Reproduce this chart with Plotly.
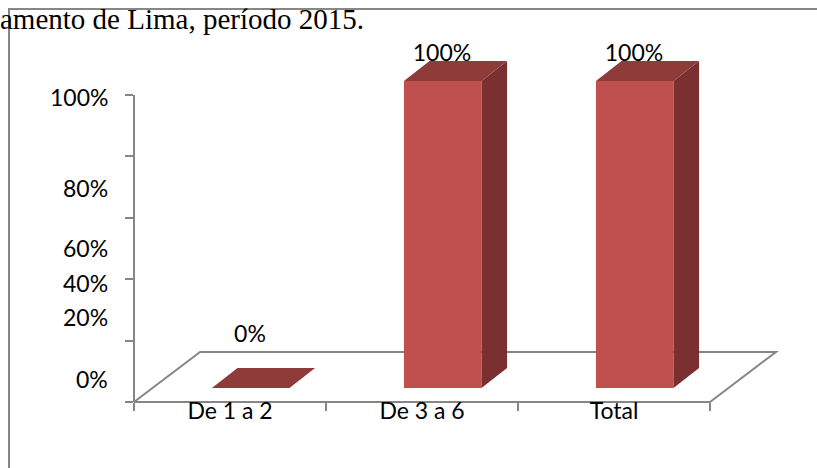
"""3D-look column chart, rebuilt from a document screenshot."""

import plotly.graph_objects as go

CATEGORIES = ["De 1 a 2", "De 3 a 6", "Total"]
VALUES = [0, 100, 100]
VALUE_LABELS = ["0%", "100%", "100%"]
VALUE_LABEL_Y = [21.5, 113.0, 113.0]

Y_TICKS = [0, 20, 40, 60, 80, 100]
# the source picture has its tick labels out of step with the tick marks
Y_LABELS = ["100%", "80%", "60%", "40%", "20%", "0%"]
Y_LABEL_POS = [99.3, 69.7, 50.2, 38.8, 27.7, 7.5]

HEADING = "amento de Lima, período 2015."

FRONT = "#C0504D"
TOP = "#8F3B3A"
SIDE = "#7A3030"
GREY = "#868686"
TEXT = "#000000"
LABEL_FONT = "Lato"
LABEL_SIZE = 23

# plot area in pixels, one category = 192 px, one percent = 3.07 px
WIDTH, HEIGHT = 817, 468
LEFT, RIGHT, TOP_M, BOTTOM = 134, 37, 40, 66
X_MAX = (WIDTH - LEFT - RIGHT) / 192
Y_MAX = (HEIGHT - TOP_M - BOTTOM) / 3.07

BAR_WIDTH = 0.404
BAR_SHIFT = 0.108
BAR_BASE = 4.56
BAR_DX = 0.133
BAR_DY = 6.5
FLOOR_DX = 0.344
FLOOR_DY = 16.3


def px_x(x):
    return (x - LEFT) / (WIDTH - LEFT - RIGHT)


def px_y(y):
    return (HEIGHT - BOTTOM - y) / (HEIGHT - TOP_M - BOTTOM)


def paper_path(xs, ys):
    return "M " + " L ".join(
        f"{x / X_MAX:.5f} {y / Y_MAX:.5f}" for x, y in zip(xs, ys)
    )


centers = [i + 0.5 for i in range(len(CATEGORIES))]
bar_x = [c + BAR_SHIFT for c in centers]
n_cat = len(CATEGORIES)

fig = go.Figure()

fig.add_trace(
    go.Bar(
        x=bar_x,
        y=VALUES,
        base=BAR_BASE,
        width=BAR_WIDTH,
        marker=dict(color=FRONT, line=dict(width=0)),
        showlegend=False,
    )
)

for x, val in zip(bar_x, VALUES):
    x0, x1 = x - BAR_WIDTH / 2, x + BAR_WIDTH / 2
    y0, y1 = BAR_BASE, BAR_BASE + val
    if val > 0:
        fig.add_trace(
            go.Scatter(
                x=[x1, x1 + BAR_DX, x1 + BAR_DX, x1, x1],
                y=[y0, y0 + BAR_DY, y1 + BAR_DY, y1, y0],
                mode="lines",
                fill="toself",
                fillcolor=SIDE,
                line=dict(width=0),
                showlegend=False,
            )
        )
    fig.add_trace(
        go.Scatter(
            x=[x0, x1, x1 + BAR_DX, x0 + BAR_DX, x0],
            y=[y1, y1, y1 + BAR_DY, y1 + BAR_DY, y1],
            mode="lines",
            fill="toself",
            fillcolor=TOP,
            line=dict(width=0),
            showlegend=False,
        )
    )

fig.add_trace(
    go.Scatter(
        x=[x - 0.004 for x in bar_x],
        y=VALUE_LABEL_Y,
        mode="text",
        text=VALUE_LABELS,
        textfont=dict(family=LABEL_FONT, size=LABEL_SIZE, color=TEXT),
        showlegend=False,
    )
)

# floor outline sits behind the bars, so it goes in as a below-layer shape
fig.add_shape(
    type="path",
    path=paper_path(
        [0, n_cat, n_cat + FLOOR_DX, FLOOR_DX, 0],
        [0, 0, FLOOR_DY, FLOOR_DY, 0],
    ),
    xref="paper",
    yref="paper",
    layer="below",
    line=dict(color=GREY, width=2),
)
# value axis stops at 100 while the plot area runs on above it
fig.add_shape(
    type="path",
    path=paper_path([0, 0], [0, max(Y_TICKS)]),
    xref="paper",
    yref="paper",
    layer="below",
    line=dict(color=GREY, width=2),
)

# page frame: the left and top edges of the embedded chart box
fig.add_shape(
    type="path",
    path=f"M {px_x(9):.5f} {px_y(468):.5f} L {px_x(9):.5f} {px_y(9):.5f} L {px_x(817):.5f} {px_y(9):.5f}",
    xref="paper",
    yref="paper",
    layer="below",
    line=dict(color=GREY, width=2),
)

for label, pos in zip(Y_LABELS, Y_LABEL_POS):
    fig.add_annotation(
        text=label,
        x=px_x(110),
        y=pos,
        xref="paper",
        yref="y",
        xanchor="right",
        yanchor="middle",
        showarrow=False,
        font=dict(family=LABEL_FONT, size=LABEL_SIZE, color=TEXT),
    )

fig.add_annotation(
    text=HEADING,
    x=px_x(-1),
    y=px_y(19),
    xref="paper",
    yref="paper",
    xanchor="left",
    yanchor="middle",
    showarrow=False,
    borderpad=0,
    font=dict(family="Liberation Serif", size=29, color=TEXT),
)

fig.update_layout(
    width=WIDTH,
    height=HEIGHT,
    margin=dict(l=LEFT, r=RIGHT, t=TOP_M, b=BOTTOM),
    paper_bgcolor="white",
    plot_bgcolor="rgba(0,0,0,0)",
    showlegend=False,
)
fig.update_xaxes(
    range=[0, X_MAX],
    tickvals=centers,
    ticktext=CATEGORIES,
    ticks="",
    ticklabelstandoff=-7,
    tickfont=dict(family=LABEL_FONT, size=LABEL_SIZE, color=TEXT),
    showgrid=False,
    zeroline=False,
    showline=False,
    minor=dict(
        tickvals=list(range(n_cat + 1)),
        ticks="outside",
        ticklen=8,
        tickwidth=1.5,
        tickcolor=GREY,
        showgrid=False,
    ),
)
fig.update_yaxes(
    range=[0, Y_MAX],
    tickvals=Y_TICKS,
    ticks="outside",
    ticklen=8,
    tickwidth=1.5,
    tickcolor=GREY,
    showticklabels=False,
    showgrid=False,
    zeroline=False,
    showline=False,
)

# the page's default body margin would push the chart 8 px off the window corner
fig.write_html(
    "out.html",
    config={"displayModeBar": False},
    post_script="document.body.style.margin = '0';",
)
